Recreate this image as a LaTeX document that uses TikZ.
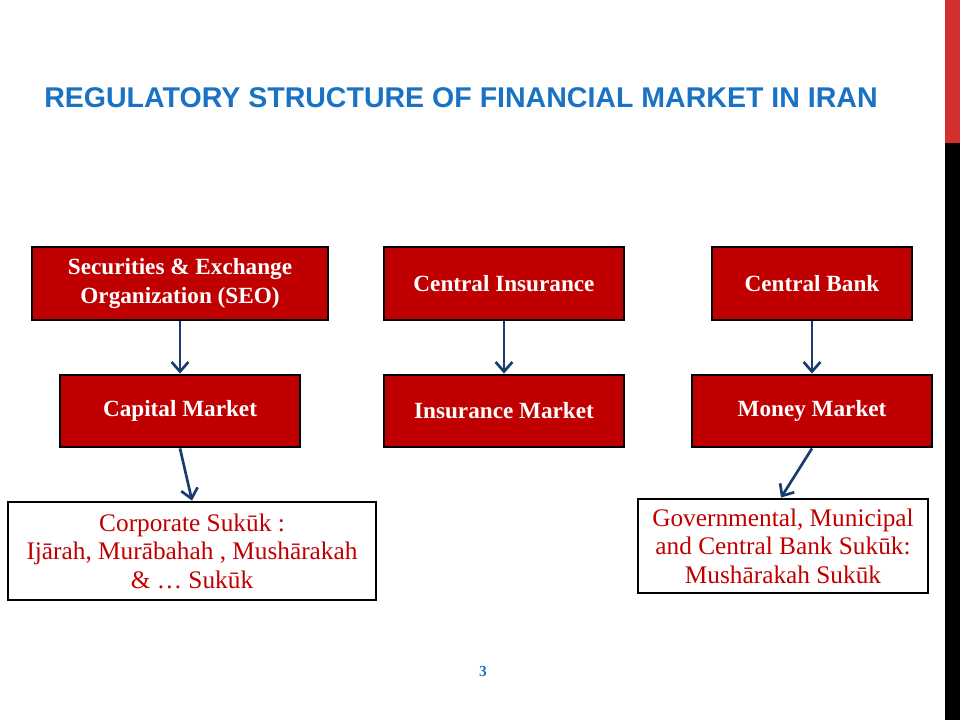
\documentclass[tikz,border=0pt]{standalone}
\usepackage{fontspec}
\setmainfont{Liberation Serif}
\newfontfamily\titlefont{Liberation Sans}
\usetikzlibrary{positioning,arrows.meta}
\definecolor{boxred}{HTML}{C00000}
\definecolor{titleblue}{HTML}{1A72C4}
\definecolor{linknavy}{HTML}{1B3A70}
\definecolor{barred}{HTML}{D32F2F}
\tikzset{
  regbox/.style={draw=black,line width=2pt,fill=boxred,text=white,font=\fontsize{16.5}{20.5}\selectfont\bfseries,align=center,inner sep=2pt},
  sukbox/.style={draw=black,line width=2pt,fill=white,text=boxred,font=\fontsize{18}{20.3}\selectfont,align=center,inner sep=2pt},
  link/.style={draw=linknavy,line width=1.9pt,-{Straight Barb[length=2.4mm,width=4.2mm,line width=1.9pt]}}
}
\begin{document}
\begin{tikzpicture}[]
\useasboundingbox (0,0) rectangle (24,-18);
\fill[barred] (23.625,0) rectangle (24,-3.575);
\fill[black] (23.625,-3.575) rectangle (24,-18);
\node[anchor=base west,inner sep=0pt,text=titleblue,font=\titlefont\fontsize{20.3}{23}\selectfont\bfseries] (title) at (1.1,-2.68) {REGULATORY STRUCTURE OF FINANCIAL MARKET IN IRAN};
%
\node[regbox,minimum width=7.4cm,minimum height=1.825cm] (SEO) at (4.5,-7.0875) {Securities \& Exchange\\Organization (SEO)};
\node[regbox,minimum width=6cm,minimum height=1.825cm] (CI) at (12.6,-7.0875) {Central Insurance};
\node[regbox,minimum width=5cm,minimum height=1.825cm] (CB) at (20.3,-7.0875) {Central Bank};
%
\node[regbox,minimum width=6cm,minimum height=1.8cm] (CM) at (4.5,-10.275) {Capital Market};
\node[regbox,minimum width=6cm,minimum height=1.8cm] (IM) at (12.6,-10.275) {Insurance Market};
\node[regbox,minimum width=6cm,minimum height=1.8cm] (MM) at (20.3,-10.275) {Money Market};
%
\node[sukbox,minimum width=9.2cm,minimum height=2.45cm] (corp) at (4.8,-13.775) {Corporate Suk\=uk :\\Ij\=arah, Mur\=abahah , Mush\=arakah\\\& \dots\ Suk\=uk};
\node[sukbox,minimum width=7.25cm,minimum height=2.35cm] (gov) at (19.575,-13.65) {Governmental, Municipal\\and Central Bank Suk\=uk:\\Mush\=arakah Suk\=uk};
%
\node[text=titleblue,font=\fontsize{11}{13}\selectfont\bfseries] (page) at (12.075,-16.78) {3};
%
\path (SEO) edge[link] (CM);
\path (CI) edge[link] (IM);
\path (CB) edge[link] (MM);
\path (CM.south) edge[link] (corp.north);
\path (MM.south) edge[link] ([xshift=-0.05cm]gov.north);
\end{tikzpicture}
\end{document}
